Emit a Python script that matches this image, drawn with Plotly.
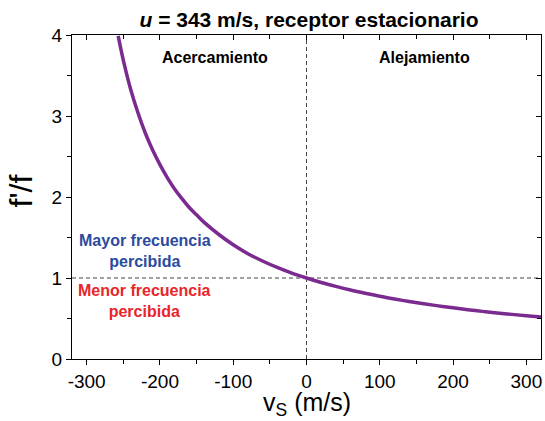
import plotly.graph_objects as go

vs = [-257, -250, -240, -230, -220, -210, -200, -190, -180, -170, -160, -150, -140, -120, -100,
      -80, -60, -40, -20, 0, 20, 40, 60, 80, 100, 120, 140, 160, 180, 200, 220, 240, 260, 280, 300, 320]
ratio = [3.99, 3.69, 3.33, 3.04, 2.79, 2.58, 2.40, 2.24, 2.10, 1.98, 1.87, 1.78, 1.69, 1.54, 1.41,
         1.30, 1.21, 1.13, 1.06, 1.00, 0.945, 0.896, 0.851, 0.811, 0.774, 0.741, 0.710, 0.682, 0.656,
         0.632, 0.609, 0.588, 0.569, 0.551, 0.533, 0.517]

xrange_ = [-320, 320]
yrange_ = [0, 4]
xticks = [-300, -200, -100, 0, 100, 200, 300]
xticklabels = ["-300", "-200", "-100", "0", "100", "200", "300"]
yticks = [0, 1, 2, 3, 4]
yticklabels = ["0", "1", "2", "3", "4"]

FONT = "Liberation Sans, Arial, sans-serif"

fig = go.Figure()
fig.add_trace(go.Scatter(x=vs, y=ratio, mode="lines", line=dict(color="#7B2A8F", width=3.5, shape="spline"),
                         showlegend=False, hoverinfo="skip"))
# invisible trace for mirrored axes
fig.add_trace(go.Scatter(x=[0], y=[1], xaxis="x2", yaxis="y2", mode="markers",
                         marker=dict(opacity=0), showlegend=False, hoverinfo="skip"))

# reference dashed lines
fig.add_shape(type="line", xref="paper", x0=0, x1=1, yref="y", y0=1, y1=1,
              line=dict(color="#444444", width=1, dash="4px,3px"), layer="below")
fig.add_shape(type="line", xref="x", x0=0, x1=0, yref="paper", y0=0, y1=1,
              line=dict(color="#444444", width=1, dash="4px,3px"), layer="below")

tick_font = dict(family=FONT, size=19, color="black")
fig.update_layout(
    width=545, height=421,
    margin=dict(l=72, r=4, t=35, b=62, autoexpand=False),
    plot_bgcolor="white", paper_bgcolor="white",
    title=dict(text="<b><i>u</i> = 343 m/s, receptor estacionario</b>", x=0.567, xanchor="center",
               y=0.953, yanchor="middle", font=dict(family=FONT, size=21, color="black")),
    xaxis=dict(range=xrange_, tickvals=xticks, ticktext=xticklabels, ticks="outside", ticklen=5, tickwidth=1,
               tickcolor="black", showline=True, linecolor="black", linewidth=1, showgrid=False, zeroline=False,
               tickfont=tick_font, automargin=False,
               minor=dict(dtick=50, tick0=0, ticks="outside", ticklen=4, tickcolor="black", showgrid=False)),
    yaxis=dict(range=yrange_, tickvals=yticks, ticktext=yticklabels, ticks="outside", ticklen=5, tickwidth=1,
               tickcolor="black", showline=True, linecolor="black", linewidth=1, showgrid=False, zeroline=False,
               tickfont=tick_font, automargin=False,
               minor=dict(dtick=0.5, tick0=0, ticks="outside", ticklen=4, tickcolor="black", showgrid=False)),
    xaxis2=dict(range=xrange_, overlaying="x", side="top", anchor="y", tickvals=xticks, ticks="inside",
                ticklen=5, tickcolor="black", showticklabels=False, showline=True, linecolor="black",
                showgrid=False, zeroline=False, automargin=False,
                minor=dict(dtick=50, tick0=0, ticks="inside", ticklen=4, tickcolor="black", showgrid=False)),
    yaxis2=dict(range=yrange_, overlaying="y", side="right", anchor="x", tickvals=yticks, ticks="inside",
                ticklen=5, tickcolor="black", showticklabels=False, showline=True, linecolor="black",
                showgrid=False, zeroline=False, automargin=False,
                minor=dict(dtick=0.5, tick0=0, ticks="inside", ticklen=4, tickcolor="black", showgrid=False)),
)

# axis titles as annotations
fig.add_annotation(text="f'/f", x=-0.109, y=0.52, xref="paper", yref="paper", textangle=-90,
                   xanchor="center", yanchor="middle", showarrow=False,
                   font=dict(family=FONT, size=32, color="black"))
fig.add_annotation(text="v<sub>S</sub> (m/s)", x=0.5, y=-0.139, xref="paper", yref="paper",
                   xanchor="center", yanchor="middle", showarrow=False,
                   font=dict(family=FONT, size=25, color="black"))

ann_font = dict(family=FONT, size=16)
fig.add_annotation(text="<b>Acercamiento</b>", x=-125, y=3.72, xref="x", yref="y", showarrow=False,
                   font=dict(**ann_font, color="black"))
fig.add_annotation(text="<b>Alejamiento</b>", x=161, y=3.72, xref="x", yref="y", showarrow=False,
                   font=dict(**ann_font, color="black"))
fig.add_annotation(text="<b>Mayor frecuencia<br>percibida</b>", x=-221, y=1.335, xref="x", yref="y",
                   showarrow=False, font=dict(**ann_font, color="#2B4B9E"))
fig.add_annotation(text="<b>Menor frecuencia<br>percibida</b>", x=-221, y=0.71, xref="x", yref="y",
                   showarrow=False, font=dict(**ann_font, color="#E8262A"))

fig.write_html("out.html")
